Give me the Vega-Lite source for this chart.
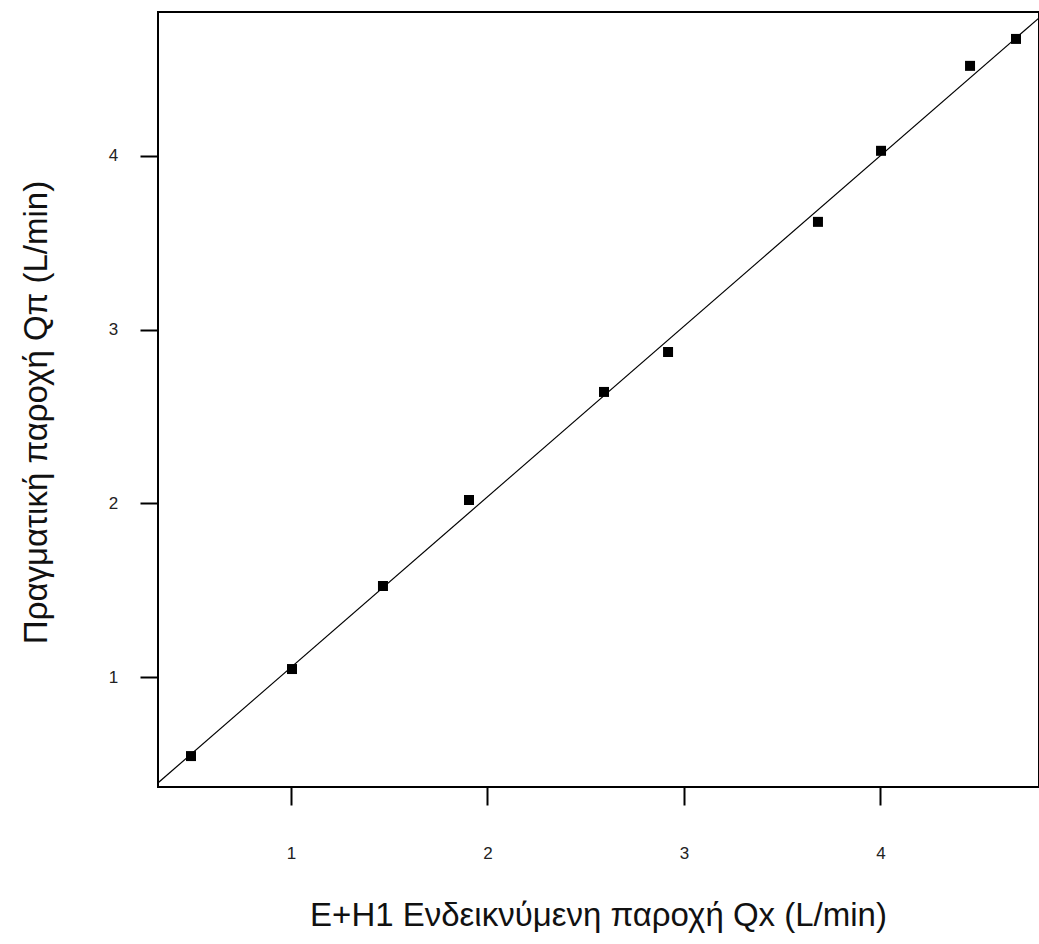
{
  "$schema": "https://vega.github.io/schema/vega-lite/v6.json",
  "width": 881,
  "height": 775,
  "autosize": {"type": "none"},
  "padding": {"left": 158, "top": 12, "right": 0, "bottom": 157},
  "background": "white",
  "config": {
    "view": {"stroke": "black", "strokeWidth": 2},
    "font": "Liberation Sans"
  },
  "datasets": {
    "points": [
      {"x": 0.491, "y": 0.545},
      {"x": 1.005, "y": 1.046},
      {"x": 1.468, "y": 1.524},
      {"x": 1.906, "y": 2.019},
      {"x": 2.593, "y": 2.641},
      {"x": 2.919, "y": 2.871},
      {"x": 3.682, "y": 3.620},
      {"x": 4.003, "y": 4.029},
      {"x": 4.456, "y": 4.518},
      {"x": 4.690, "y": 4.673}
    ],
    "fit": [
      {"x": 0.3, "y": 0.368},
      {"x": 4.85, "y": 4.836}
    ]
  },
  "layer": [
    {
      "data": {"name": "fit"},
      "mark": {"type": "line", "color": "black", "strokeWidth": 1.2, "clip": true},
      "encoding": {
        "x": {"field": "x", "type": "quantitative"},
        "y": {"field": "y", "type": "quantitative"}
      }
    },
    {
      "data": {"name": "points"},
      "mark": {"type": "point", "shape": "square", "filled": true, "color": "black", "opacity": 1, "size": 100},
      "encoding": {
        "x": {
          "field": "x", "type": "quantitative",
          "scale": {"domain": [0.323, 4.807], "nice": false, "zero": false},
          "axis": {
            "title": "E+H1  Ενδεικνύμενη  παροχή  Qx  (L/min)",
            "values": [1, 2, 3, 4], "format": "d",
            "grid": false, "domain": false,
            "tickSize": 18, "tickColor": "black", "tickWidth": 2,
            "labelPadding": 48, "labelBaseline": "middle",
            "labelFontSize": 17, "labelColor": "#222222",
            "titleFontSize": 33, "titleFontWeight": "normal", "titleColor": "#111111",
            "titleX": 440, "titleY": 128, "titleBaseline": "middle"
          }
        },
        "y": {
          "field": "y", "type": "quantitative",
          "scale": {"domain": [0.367, 4.828], "nice": false, "zero": false},
          "axis": {
            "title": "Πραγματική  παροχή  Qπ  (L/min)",
            "values": [1, 2, 3, 4], "format": "d",
            "grid": false, "domain": false,
            "tickSize": 18, "tickColor": "black", "tickWidth": 2,
            "labelPadding": 27, "labelAlign": "center", "labelBaseline": "middle",
            "labelFontSize": 17, "labelColor": "#222222",
            "titleFontSize": 33, "titleFontWeight": "normal", "titleColor": "#111111",
            "titleAngle": -90, "titleX": -122, "titleY": 400, "titleBaseline": "middle", "titleAlign": "center"
          }
        }
      }
    }
  ]
}
